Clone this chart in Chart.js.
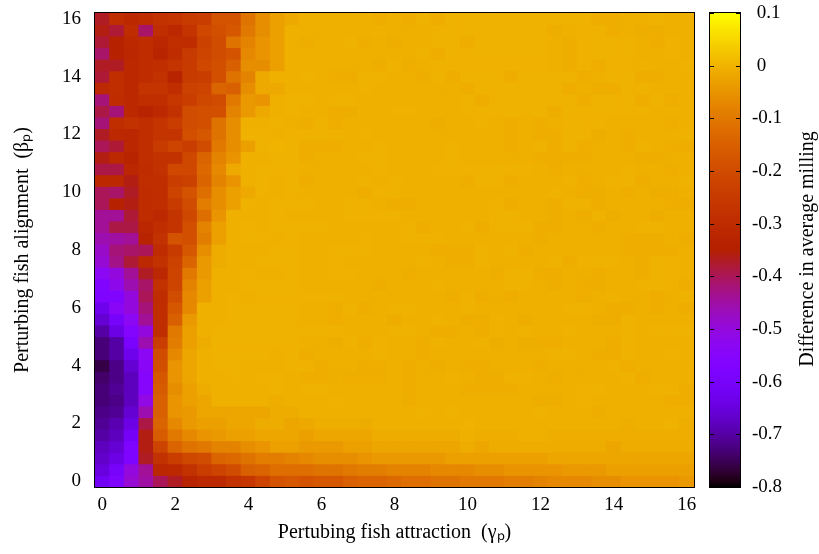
<!DOCTYPE html>
<html>
<head>
<meta charset="utf-8">
<title>Difference in average milling</title>
<script src="https://cdn.jsdelivr.net/npm/chart.js@4"></script>
<style>
  html, body { margin: 0; padding: 0; background: #fff; }
  canvas { position: absolute; left: 0; top: 0; }
</style>
</head>
<body>
<canvas id="heatChart" width="819" height="554"></canvas>
<canvas id="barChart" width="819" height="554"></canvas>
<script>
const gammaValues = [0,0.4,0.8,1.2,1.6,2,2.4,2.8,3.2,3.6,4,4.4,4.8,5.2,5.6,6,6.4,6.8,7.2,7.6,8,8.4,8.8,9.2,9.6,10,10.4,10.8,11.2,11.6,12,12.4,12.8,13.2,13.6,14,14.4,14.8,15.2,15.6,16];
const betaValues = [16,15.6,15.2,14.8,14.4,14,13.6,13.2,12.8,12.4,12,11.6,11.2,10.8,10.4,10,9.6,9.2,8.8,8.4,8,7.6,7.2,6.8,6.4,6,5.6,5.2,4.8,4.4,4,3.6,3.2,2.8,2.4,2,1.6,1.2,0.8,0.4,0];
const colorbarTicks = [-0.8,-0.7,-0.6,-0.5,-0.4,-0.3,-0.2,-0.1,0,0.1];

// milling difference in hundredths, one row per beta (top row first)
const milling = [
[-37,-29,-31,-30,-28,-27,-25,-24,-18,-18,-11,-6,-3,-1.5, -.5,-.5,-.5,-.5,-.5,-.9,-.5,-.9,-.2, -.9,-.2,-.2,-.2,-.2,-.2,-.2,-.2,-.2, -.2,-.2,-.9,-.9,-.5,-.5,-.2,-.5,-.5],
[-36,-38,-30,-41,-29,-31,-27,-21,-19,-17,-10,-6,-3,-.5, -.5,-.5,-.5,-.5,-.5,-.2,-.5,-.5,-.5, -.2,-.2,-.2,-.2,-.2,-.2,-.2,-.2,-.9, -.5,-.2,-.2,-.9,-.5,-.9,-.9,-.5,-.5],
[-38,-34,-31,-30,-32,-29,-30,-23,-20,-11,-8,-5,-3,-.5, -.9,-.5,-.5,-.2,-.9,-.5,-.9,-.5,-.5, -.2,-.2,-.9,-.2,-.2,-.2,-.2,-.2,-.5, -.9,-.2,-.2,-.2,-.2,-.5,-.9,-.2,-.5],
[-41,-34,-32,-30,-33,-30,-25,-22,-20,-18,-7,-5,-3,-.5, -.5,-.5,-.5,-.5,-.5,-.5,-.5,-.5,-.2, -.9,-.2,-.2,-.2,-.2,-.2,-.2,-.2,-.5, -.9,-.2,-.2,-.2,-.2,-.5,-.5,-.2,-.5],
[-37,-37,-31,-30,-29,-27,-25,-21,-19,-15,-6,-6,-3,-.5, -.5,-.5,-.5,-.5,-.5,-.9,-.2,-.9,-.5, -.2,-.2,-.2,-.2,-.2,-.2,-.2,-.2,-.5, -.9,-.2,-.9,-.2,-.2,-.2,-.5,-.5,-.2],
[-38,-29,-31,-30,-28,-33,-25,-24,-19,-11,-8,-1.5,-.5,-.5, -.2,-.5,-.9,-.9,-.2,-.2,-.5,-.5,-.9, -.2,-.9,-.2,-.2,-.2,-.9,-.2,-.2,-.2, -.2,-.9,-.5,-.2,-.2,-.9,-.9,-.5,-.5],
[-31,-29,-31,-27,-27,-29,-23,-22,-14,-15,-6,-1.5,-1.5,-.5, -.5,-.5,-.5,-.5,-.2,-.5,-.5,-.5,-.5, -.5,-.5,-.9,-.2,-.2,-.2,-.2,-.2,-.2, -.9,-.5,-.9,-.9,-.2,-.2,-.5,-.5,-.5],
[-42,-30,-31,-29,-29,-26,-24,-21,-20,-10,-4,-5,-.5,-.2, -.2,-.5,-.2,-.2,-.5,-.5,-.5,-.5,-.5, -.5,-.5,-.2,-.9,-.2,-.2,-.2,-.2,-.2, -.2,-.9,-.2,-.2,-.2,-.9,-.2,-.9,-.5],
[-39,-42,-31,-33,-31,-28,-20,-19,-19,-8,-4,-1.5,-.5,-.2, -.5,-.5,-.9,-.9,-.5,-.5,-.2,-.2,-.5, -.5,-.5,-.2,-.2,-.2,-.2,-.2,-.2,-.9, -.2,-.2,-.2,-.2,-.2,-.2,-.5,-.5,-.5],
[-42,-29,-28,-29,-27,-24,-20,-19,-11,-6,-.5,-.5,-.2,-.5, -.9,-.2,-.9,-.5,-.5,-.5,-.5,-.5,-.5, -.9,-.5,-.5,-.2,-.5,-.9,-.5,-.9,-.5, -.2,-.2,-.2,-.5,-.5,-.5,-.5,-.9,-.5],
[-37,-31,-32,-29,-27,-27,-19,-17,-11,-6,-.2,-.2,-.5,-.2, -.2,-.2,-.2,-.5,-.2,-.5,-.5,-.5,-.5, -.5,-.5,-.5,-.5,-.5,-.9,-.5,-.9,-.9, -.2,-.2,-.9,-.5,-.9,-.5,-.5,-.5,-.2],
[-40,-38,-32,-29,-25,-22,-24,-20,-10,-6,-3,-.2,0,-.2, -.9,-.9,-.9,-.5,-.5,-.2,-.5,-.5,-.5, -.5,-.2,-.5,-.5,-.5,-.9,-.5,-.2,-.9, -.2,-.9,-.5,-.5,-.9,-.2,-.5,-.9,-.9],
[-36,-31,-33,-29,-28,-28,-21,-14,-8,-5,-.5,-.5,-.2,-.2, -.9,-.5,-.5,-.5,-.2,-.2,-.5,-.5,-.5, -.5,-.2,-.5,-.5,-.5,-.5,-.5,-.9,-.9, -.9,-.9,-.5,-.5,-.5,-.9,-.9,-.5,-.5],
[-39,-39,-32,-30,-28,-21,-21,-13,-7,-1.5,-.5,-.2,-.2,-.2, -.5,-.5,-.5,-.5,-.5,-.2,-.5,-.5,-.5, -.2,-.2,-.2,-.2,-.2,-.2,-.2,-.5,-.9, -.5,-.5,-.5,-.5,-.2,-.5,-.5,-.9,-.5],
[-31,-31,-36,-29,-29,-24,-23,-14,-8,-5,-.5,-.2,-.5,-.2, -.9,-.5,-.5,-.5,-.2,-.5,-.2,-.5,-.5, -.5,-.5,-.9,-.2,-.2,-.9,-.5,-.5,-.5, -.2,-.9,-.5,-.2,-.2,-.9,-.5,-.5,-.2],
[-40,-41,-37,-30,-29,-22,-18,-12,-6,-3,-1.5,-.2,-.5,-.2, -.5,-.5,-.5,-.5,-.9,-.2,-.2,-.5,-.5, -.5,-.5,-.5,-.5,-.5,-.5,-.5,-.5,-.2, -.5,-.9,-.9,-.5,-.9,-.5,-.9,-.9,-.5],
[-40,-34,-36,-30,-29,-25,-20,-9,-6,-3,-.2,-.5,-.2,-.2, -.2,-.5,-.5,-.2,-.2,-.5,-.9,-.9,-.5, -.5,-.5,-.5,-.5,-.2,-.9,-.5,-.5,-.9, -.2,-.2,-.9,-.5,-.5,-.5,-.5,-.9,-.9],
[-44,-44,-38,-30,-31,-27,-21,-12,-5,-.5,-.5,-.5,-.2,-.5, -.5,-.5,-.5,-.2,-.2,-.2,-.2,-.5,-.5, -.5,-.5,-.5,-.5,-.2,-.2,-.5,-.5,-.9, -.5,-.9,-.2,-.9,-.5,-.5,-.9,-.5,-.5],
[-44,-39,-39,-32,-29,-27,-19,-8,-3,-.5,-.2,-.5,-.2,-.2, -.2,-.2,-.5,-.5,-.5,-.5,-.5,-.2,-.9, -.5,-.5,-.2,-.9,-.2,-.2,-.2,-.9,-.9, -.5,-.5,-.9,-.5,-.5,-.2,-.2,-.5,-.5],
[-46,-45,-44,-33,-28,-18,-19,-9,-3,-.5,-.2,-.2,-.5,-.2, -.5,-.5,-.5,-.5,-.2,-.5,-.5,-.2,-.2, -.2,-.5,-.5,-.5,-.5,-.5,-.5,-.9,-.5, -.5,-.5,-.5,-.5,-.9,-.9,-.9,-.5,-.9],
[-48,-42,-41,-40,-30,-25,-17,-6,-1,-.5,-.5,-.5,-.2,-.2, -.5,-.5,-.2,-.2,-.2,-.5,-.5,-.5,-.5, -.9,-.9,-.9,-.2,-.5,-.2,-.9,-.5,-.5, -.5,-.5,-.5,-.5,-.9,-.9,-.9,-.9,-.5],
[-49,-43,-38,-31,-28,-23,-14,-4,-1,-.5,-.5,-.2,-.2,-.2, -.5,-.5,-.2,-.5,-.5,-.5,-.5,-.5,-.2, -.5,-.9,-.9,-.2,-.5,-.5,-.5,-.5,-.2, -.9,-.2,-.2,-.2,-.5,-.9,-.2,-.2,-.5],
[-53,-50,-44,-37,-32,-22,-10,-4,-.5,-.5,-.2,-.5,-.5,-.2, -.5,-.5,-.2,-.2,-.5,-.5,-.5,-.9,-.5, -.5,-.5,-.5,-.5,-.9,-.2,-.2,-.9,-.9, -.5,-.5,-.9,-.5,-.5,-.9,-.2,-.2,-.5],
[-57,-52,-46,-41,-28,-22,-8,-3,-.5,-.5,-.2,-.2,-.2,-.2, -.5,-.5,-.5,-.5,-.5,-.9,-.5,-.5,-.5, -.2,-.5,-.5,-.5,-.5,-.2,-.2,-.5,-.9, -.5,-.9,-.9,-.5,-.5,-.2,-.2,-.2,-.9],
[-58,-57,-50,-40,-30,-20,-7,-3,-.5,-.2,-.5,-.2,-.2,-.2, -.2,-.2,-.2,-.5,-.5,-.5,-.5,-.5,-.5, -.5,-.9,-.2,-.9,-.5,-.9,-.5,-.5,-.5, -.5,-.9,-.5,-.2,-.5,-.5,-.9,-.5,-.2],
[-63,-54,-50,-42,-29,-17,-7,-.5,-.5,-.2,-.2,-.2,-.2,-.2, -.5,-.5,-.9,-.2,-.9,-.5,-.2,-.2,-.5, -.5,-.5,-.2,-.5,-.5,-.5,-.5,-.5,-.5, -.2,-.2,-.5,-.9,-.9,-.5,-.9,-.5,-.9],
[-66,-60,-53,-44,-29,-15,-4,-.5,-.5,-.2,-.2,-.2,-.2,-.2, -.5,-.5,-.9,-.5,-.5,-.5,-.9,-.5,-.5, -.2,-.5,-.9,-.9,-.2,-.5,-.9,-.5,-.5, -.5,-.5,-.9,-.9,-.2,-.5,-.5,-.5,-.5],
[-70,-64,-56,-50,-29,-10,-3,-.5,-.2,-.2,-.2,-.2,-.2,-.2, -.2,-.2,-.2,-.5,-.5,-.5,-.2,-.2,-.5, -.9,-.9,-.5,-.9,-.2,-.5,-.2,-.5,-.5, -.2,-.5,-.5,-.5,-.2,-.5,-.2,-.2,-.2],
[-73,-70,-59,-46,-24,-9,-3,-1,-.2,-.2,-.2,-.2,-.2,-.2, -.5,-.5,-.9,-.2,-.9,-.2,-.5,-.5,-.9, -.2,-.5,-.5,-.2,-.9,-.5,-.9,-.9,-.9, -.5,-.5,-.5,-.9,-.2,-.5,-.5,-.5,-.5],
[-73,-70,-63,-53,-20,-7,-2,-.5,-.2,-.2,-.2,-.2,-.5,-.2, -.9,-.5,-.5,-.5,-.5,-.2,-.5,-.5,-.9, -.5,-.5,-.5,-.5,-.5,-.5,-.5,-.5,-.2, -.2,-.5,-.9,-.9,-.2,-.5,-.5,-.2,-.5],
[-76,-72,-66,-54,-19,-5,-2,-.5,-.2,-.2,-.5,-.5,-.5,-.2, -.2,-.9,-.5,-.5,-.9,-.9,-.5,-.9,-.5, -.9,-.5,-.9,-.9,-.5,-.5,-.5,-.9,-.5, -.5,-.5,-.5,-.2,-.9,-.5,-.5,-.5,-.5],
[-74,-72,-68,-55,-17,-5,-2,-.5,-.5,-.2,-.5,-.2,-.2,-.5, -.9,-.9,-.5,-.9,-.9,-.9,-.5,-.9,-.5, -.5,-.2,-.5,-.9,-.9,-.2,-.2,-.5,-.9, -.5,-.5,-.5,-.5,-.2,-.9,-.5,-.5,-.5],
[-73,-71,-68,-55,-16,-6,-3,-1,-.5,-.5,-.5,-.5,-.2,-.5, -.2,-.2,-.5,-.5,-.5,-.5,-.5,-.9,-.5, -.5,-.5,-.9,-.9,-.9,-.9,-.5,-.5,-.5, -.5,-.2,-.2,-.5,-.5,-.5,-.2,-.2,-.9],
[-73,-72,-68,-51,-15,-5,-3,-2,-.5,-.5,-.5,-.5,-.9,-.5, -.5,-.5,-.2,-.5,-.5,-.5,-.5,-.9,-.5, -.5,-.5,-.5,-.5,-.5,-.5,-.5,-.9,-.9, -.5,-.2,-.5,-.5,-.5,-.5,-.5,-.9,-.9],
[-72,-71,-66,-46,-15,-5,-4,-2,-2,-2,-2,-2,-1,-1, -.5,-.5,-.5,-.5,-.5,-.5,-.5,-.5,-.2, -.5,-.2,-.5,-.5,-.5,-.5,-.5,-.2,-.5, -.5,-.5,-.9,-.5,-.5,-.5,-.5,-.5,-.5],
[-71,-69,-64,-39,-14,-7,-4,-3,-3,-2,-2,-1,-1,-2, -1.5,-.9,-.9,-.9,-1,-.5,-.5,-.5,-.5, -.5,-.5,-.2,-.5,-.5,-.5,-.5,-.5,-.5, -.5,-.5,-.5,-.5,-.9,-.5,-.5,-.2,-.9],
[-70,-68,-61,-36,-16,-10,-7,-5,-4,-3,-3,-2,-2,-2, -3,-2,-2,-2,-2,-1,-1,-1,-1, -1,-1,-.5,-.9,-.9,-.9,-.5,-.5,-.9, -.9,-.9,-.9,-.9,-.9,-.9,-.9,-.9,-.9],
[-68,-66,-58,-36,-22,-14,-11,-10,-8,-8,-6,-5,-3,-3, -4,-4,-4,-3,-3,-2,-2,-2,-2, -2,-2,-1,-2,-1,-1,-1,-1,-1, -1,-1,-1,-2,-1,-1,-1,-1,-1],
[-67,-64,-58,-37,-28,-24,-21,-20,-14,-13,-11,-9,-9,-8, -7,-6,-6,-6,-5,-4,-4,-4,-4, -4,-3,-3,-3,-3,-3,-3,-3,-2, -2,-2,-2,-2,-2,-2,-2,-2,-2],
[-65,-60,-50,-44,-32,-31,-28,-24,-22,-20,-15,-14,-12,-12, -12,-11,-11,-10,-9,-9,-8,-8,-8, -7,-7,-7,-6,-6,-5,-5,-5,-5, -4,-4,-4,-3,-3,-3,-3,-3,-3],
[-62,-58,-49,-45,-40,-37,-33,-31,-31,-28,-26,-22,-18,-17, -18,-17,-17,-15,-14,-14,-13,-12,-12, -11,-11,-10,-10,-10,-9,-9,-8,-7, -7,-7,-6,-6,-5,-5,-5,-5,-4]
];

const tickFont = { family: '"Liberation Serif"', size: 19 };
const titleFont = { family: '"Liberation Serif"', size: 20 };
const cbMin = -0.8, cbMax = 0.1;

// gnuplot default pm3d palette (rgbformulae 7,5,15)
function paletteColor(v) {
    const t = Math.min(1, Math.max(0, (v - cbMin) / (cbMax - cbMin)));
    const r = Math.sqrt(t), g = t * t * t, b = Math.max(0, Math.sin(2 * Math.PI * t));
    return `rgb(${Math.round(r * 255)},${Math.round(g * 255)},${Math.round(b * 255)})`;
}

const frame = {
    id: 'frame',
    afterDraw(chart) {
        const a = chart.chartArea, c = chart.ctx;
        c.save();
        c.strokeStyle = '#000';
        c.lineWidth = 1;
        c.strokeRect(a.left - 0.5, a.top - 0.5, a.right - a.left + 1, a.bottom - a.top + 1);
        c.restore();
    }
};

// one floating bar per cell, one dataset per beta row
const rows = betaValues.map((beta, i) => ({
    data: gammaValues.map(() => [beta - 0.2, beta + 0.2]),
    backgroundColor: milling[i].map(m => paletteColor(m / 100)),
    borderWidth: 0,
    inflateAmount: 0.4,
    grouped: false,
    barPercentage: 1,
    categoryPercentage: 1
}));

new Chart(document.getElementById('heatChart'), {
    type: 'bar',
    data: { labels: gammaValues, datasets: rows },
    plugins: [frame],
    options: {
        responsive: false,
        animation: false,
        layout: { padding: { top: 13, right: 125, bottom: 0, left: 0 } },
        plugins: { legend: { display: false }, tooltip: { enabled: false } },
        scales: {
            x: {
                grid: { display: false, drawTicks: false },
                border: { display: false },
                afterFit(scale) { scale.height = 67; scale.paddingLeft = 0; scale.paddingRight = 0; },
                ticks: {
                    autoSkip: false, maxRotation: 0, color: '#000', font: tickFont, padding: 7,
                    callback(value, index) { return index % 5 === 0 ? this.getLabelForValue(value) : null; }
                },
                title: { display: true, text: 'Pertubing fish attraction  (γₚ)', color: '#000', font: titleFont, padding: { top: 0, bottom: 9 } }
            },
            y: {
                min: -0.2,
                max: 16.2,
                grid: { display: false, drawTicks: false },
                border: { display: false },
                afterFit(scale) { scale.width = 95; scale.paddingTop = 0; scale.paddingBottom = 0; },
                ticks: { stepSize: 2, includeBounds: false, color: '#000', font: tickFont, padding: 14 },
                title: { display: true, text: 'Perturbing fish alignment  (βₚ)', color: '#000', font: titleFont, padding: { top: 11, bottom: 0 } }
            }
        }
    }
});

const barTitle = {
    id: 'barTitle',
    afterDraw(chart) {
        const c = chart.ctx;
        c.save();
        c.translate(808, 249);
        c.rotate(-Math.PI / 2);
        c.font = '20px "Liberation Serif"';
        c.fillStyle = '#000';
        c.textAlign = 'center';
        c.textBaseline = 'middle';
        c.fillText('Difference in average milling', 0, 0);
        c.restore();
    }
};

const barTicks = {
    id: 'barTicks',
    afterDraw(chart) {
        const a = chart.chartArea, c = chart.ctx, y = chart.scales.y;
        c.save();
        c.strokeStyle = '#000';
        c.lineWidth = 1;
        colorbarTicks.forEach(t => {
            const p = Math.round(y.getPixelForValue(t)) + 0.5;
            c.beginPath();
            c.moveTo(a.left, p); c.lineTo(a.left + 4, p);
            c.moveTo(a.right, p); c.lineTo(a.right - 4, p);
            c.stroke();
        });
        c.restore();
    }
};

function barGradient(ctx) {
    const a = ctx.chart.chartArea;
    if (!a) return '#000';
    const g = ctx.chart.ctx.createLinearGradient(0, a.bottom, 0, a.top);
    for (let i = 0; i <= 90; i++) {
        g.addColorStop(i / 90, paletteColor(cbMin + (cbMax - cbMin) * i / 90));
    }
    return g;
}

new Chart(document.getElementById('barChart'), {
    type: 'bar',
    data: {
        labels: ['milling'],
        datasets: [{
            data: [[cbMin, cbMax]],
            backgroundColor: barGradient,
            borderWidth: 0,
            inflateAmount: 0,
            barPercentage: 1,
            categoryPercentage: 1
        }]
    },
    plugins: [frame, barTicks, barTitle],
    options: {
        responsive: false,
        animation: false,
        layout: { padding: { top: 13, right: 0, bottom: 67, left: 710 } },
        plugins: { legend: { display: false }, tooltip: { enabled: false } },
        scales: {
            x: { display: false },
            y: {
                position: 'right',
                min: cbMin,
                max: cbMax,
                grid: { display: false, drawTicks: false },
                border: { display: false },
                afterFit(scale) { scale.width = 79; scale.paddingTop = 0; scale.paddingBottom = 0; },
                ticks: {
                    stepSize: 0.1, color: '#000', font: tickFont, padding: 12,
                    callback(v) { const n = Number(v.toFixed(1)); return n < 0 ? String(n) : ' ' + n; }
                }
            }
        }
    }
});
</script>
</body>
</html>
